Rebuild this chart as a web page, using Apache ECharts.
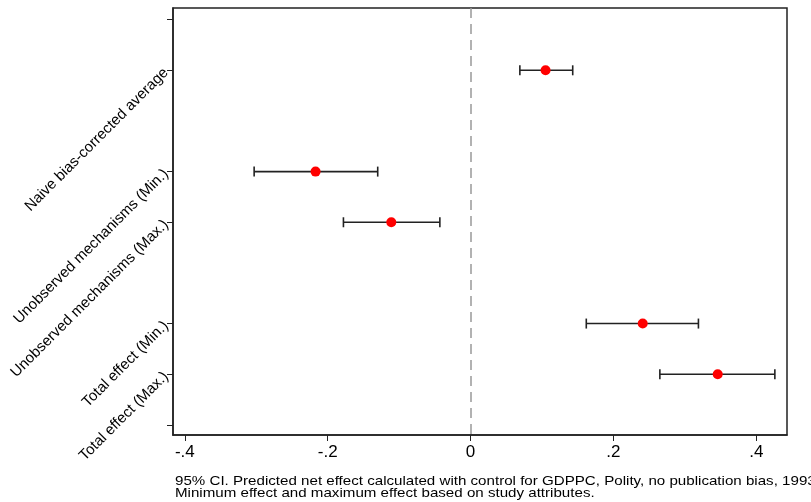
<!DOCTYPE html>
<html>
<head>
<meta charset="utf-8">
<script src="https://cdn.jsdelivr.net/npm/echarts@6/dist/echarts.min.js"></script>
<style>
  html, body { margin: 0; padding: 0; background: #fff; }
  #chart { width: 811px; height: 502px; }
</style>
</head>
<body>
<div id="chart"></div>
<script>
// row positions on the y scale (0 and 8 are empty end ticks)
const rowNames = ['Naive bias-corrected average', 'Unobserved mechanisms (Min.)', 'Unobserved mechanisms (Max.)', 'Total effect (Min.)', 'Total effect (Max.)']
const rowPos = [1, 3, 4, 6, 7]
const yTicks = [0, 1, 3, 4, 6, 7, 8]
// point estimates and 95% CI
const estimate = [0.105, -0.217, -0.111, 0.241, 0.346]
const ciLow = [0.069, -0.303, -0.178, 0.162, 0.265]
const ciHigh = [0.143, -0.130, -0.043, 0.319, 0.426]
const xTicks = [-0.4, -0.2, 0, 0.2, 0.4]
const xTickLabels = ['-.4', '-.2', '0', '.2', '.4']

const chart = echarts.init(document.getElementById('chart'))

const barData = rowPos.map((p, i) => [ciLow[i], ciHigh[i], p])
const pointData = rowPos.map((p, i) => [estimate[i], p])

const options = {
  backgroundColor: '#fff',
  animation: false,
  textStyle: { fontFamily: 'Liberation Sans, Arial, sans-serif' },
  grid: {
    left: 173,
    right: 24,
    top: 8,
    bottom: 67,
    show: true,
    borderColor: '#222',
    borderWidth: 1.5,
    backgroundColor: '#fff'
  },
  xAxis: {
    type: 'value',
    min: -0.4166,
    max: 0.443,
    splitLine: { show: false },
    axisLine: { show: true, onZero: false, lineStyle: { color: '#222', width: 1.5 } },
    axisTick: { show: true, length: 6, customValues: xTicks, lineStyle: { color: '#222' } },
    axisLabel: {
      customValues: xTicks,
      color: '#000',
      fontSize: 17,
      margin: 9,
      formatter: v => {
        const i = xTicks.findIndex(t => Math.abs(t - v) < 1e-9)
        return i >= 0 ? xTickLabels[i] : ''
      }
    }
  },
  yAxis: {
    type: 'value',
    inverse: true,
    min: -0.23,
    max: 8.2,
    splitLine: { show: false },
    axisLine: { show: true, onZero: false, lineStyle: { color: '#222', width: 1.5 } },
    axisTick: { show: true, length: 6, customValues: yTicks, lineStyle: { color: '#222' } },
    axisLabel: {
      customValues: rowPos,
      rotate: 45,
      color: '#000',
      fontSize: 15,
      margin: 7,
      formatter: v => {
        const i = rowPos.indexOf(Math.round(v))
        return i >= 0 ? rowNames[i] : ''
      }
    }
  },
  series: [
    {
      type: 'custom',
      data: barData,
      encode: { x: [0, 1], y: 2 },
      renderItem: (params, api) => {
        const a = api.coord([api.value(0), api.value(2)])
        const b = api.coord([api.value(1), api.value(2)])
        const h = 5
        const style = { stroke: '#222', lineWidth: 1.6 }
        return {
          type: 'group',
          children: [
            { type: 'line', shape: { x1: a[0], y1: a[1], x2: b[0], y2: b[1] }, style },
            { type: 'line', shape: { x1: a[0], y1: a[1] - h, x2: a[0], y2: a[1] + h }, style },
            { type: 'line', shape: { x1: b[0], y1: b[1] - h, x2: b[0], y2: b[1] + h }, style }
          ]
        }
      },
      markLine: {
        silent: true,
        symbol: 'none',
        label: { show: false },
        lineStyle: { color: '#999', type: [10, 6], width: 1.5 },
        data: [{ xAxis: 0 }]
      }
    },
    {
      type: 'scatter',
      data: pointData,
      symbol: 'circle',
      symbolSize: 10,
      itemStyle: { color: '#ff0000', opacity: 1 },
      z: 5
    }
  ],
  graphic: [
    {
      type: 'text',
      left: 175,
      top: 474,
      scaleX: 1.12,
      style: {
        text: '95% CI. Predicted net effect calculated with control for GDPPC, Polity, no publication bias, 1993\nMinimum effect and maximum effect based on study attributes.',
        fontSize: 13.5,
        lineHeight: 12.5,
        fill: '#000',
        fontFamily: 'Liberation Sans, Arial, sans-serif'
      }
    }
  ]
}

chart.setOption(options)
</script>
</body>
</html>
